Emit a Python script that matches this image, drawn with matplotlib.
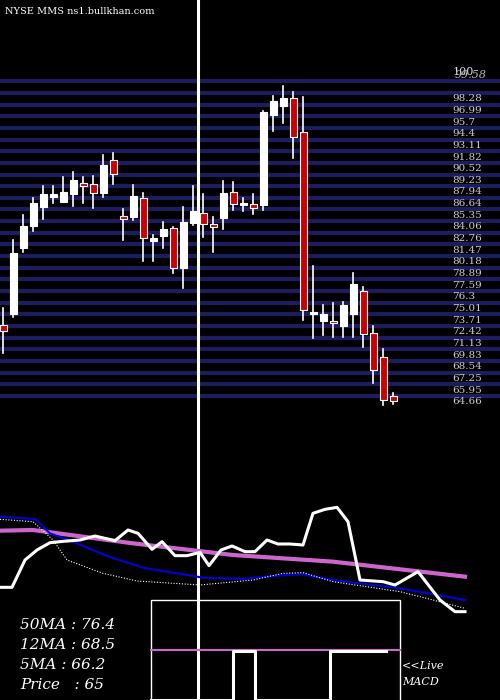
import matplotlib
matplotlib.use("Agg")
import matplotlib.pyplot as plt
from matplotlib.patches import Rectangle

# ---- data ----
opens  = [72.53,73.75,81.11,83.55,85.66,86.77,86.22,87.07,88.25,88.14,87.22,90.84,84.63,84.55,86.59,81.89,82.44,83.26,78.89,83.81,
          84.92,83.70,84.44,87.25,85.85,85.92,85.85,95.84,96.83,97.69,93.91,73.71,73.01,72.90,72.45,73.71,76.30,71.60,68.94,64.69]
closes = [71.90,80.56,83.52,86.03,87.07,87.07,87.29,88.62,87.99,87.14,90.29,89.25,84.26,86.88,82.15,82.22,83.18,78.82,83.92,85.18,
          83.70,83.44,87.14,85.92,86.11,85.48,96.21,97.39,97.76,93.43,74.19,73.72,73.75,72.71,74.75,77.08,71.49,67.53,64.20,64.09]
highs  = [74.38,81.96,84.74,86.66,87.96,87.96,88.99,89.51,88.99,89.07,91.40,91.62,85.40,88.07,87.22,82.52,83.92,83.44,85.66,87.96,
          87.07,84.55,88.51,88.36,86.66,87.07,96.28,97.98,99.05,98.35,97.87,79.08,74.75,74.93,75.04,78.26,76.78,72.42,69.83,64.94]
lows   = [69.38,73.45,80.67,83.00,84.29,86.11,86.22,85.77,86.11,85.55,86.77,88.18,81.96,84.18,79.67,79.67,81.11,78.26,76.67,83.63,
          82.33,80.67,83.18,85.29,85.18,84.81,85.29,94.06,94.98,91.10,73.08,71.12,71.42,71.23,71.16,71.23,70.12,66.13,63.65,63.76]
price_labels = ["98.28","96.99","95.7","94.4","93.11","91.82","90.52","89.23","87.94","86.64","85.35","84.06","82.76",
                "81.47","80.18","78.89","77.59","76.3","75.01","73.71","72.42","71.13","69.83","68.54","67.25","65.95","64.66"]

# indicator panel (x in bar units, y in indicator units)
w_x = [0,1.2,2.5,3.7,5,6.7,8,9.5,11.5,12.8,13.8,15.2,16.2,17.5,18.7,20,20.9,22.1,23.2,24.5,25.5,26.7,27.8,29,30.3,31.3,32.5,33.7,34.8,36,38.3,39.5,41.8,44,45.5,46.5]
w_y = [262,262,180,150,128,123,120,108,122,90,100,148,125,167,167,157,197,150,138,155,155,120,132,132,135,40,28,22,65,240,245,255,215,300,335,335]
b_x = [0,3.5,5,7.7,10.7,14.3,20.3,24.3,27.3,30,33.3,40,46.5]
b_y = [50,57,100,130,168,203,233,237,228,222,240,265,300]
d_x = [0,3.3,5.3,6.7,10.3,13.7,20,25.3,28.3,30.3,33.3,40,43.3,46.5]
d_y = [58,65,120,180,220,243,255,240,220,218,245,275,300,325]
m_x = [0,3.3,13.3,23.3,33.3,46.5]
m_y = [92,90,130,165,185,230]
macd_x = [15.1,23.3,23.3,25.5,25.5,33.0,33.0,38.6]
macd_y = [700,700,651,651,700,700,651,651]

BG = "black"
fig = plt.figure(figsize=(5, 7), dpi=100, facecolor=BG)

# price panel: covers pixel rows 0..420
ax = fig.add_axes([0, 280/700, 1, 420/700])
ax.set_facecolor(BG)
ax.set_xlim(-0.33, 49.67)
ax.set_ylim(61.98, 108.6)
ax.axis("off")
levels = [99.58] + [float(s) for s in price_labels]
for lv in levels:
    ax.axhline(lv, color="#1c1c5e", lw=3, zorder=1)
for i, (o, c, h, l) in enumerate(zip(opens, closes, highs, lows)):
    up = c >= o
    ax.plot([i, i], [l, h], color="white", lw=1.2, zorder=2)
    col = "white" if up else "#cc0000"
    ax.add_patch(Rectangle((i - 0.33, min(o, c)), 0.66, max(abs(c - o), 0.25),
                           facecolor=col, edgecolor="white", lw=0.8, zorder=3))
ax.text(44.9, 100.0, "100", color="#dddddd", fontsize=8, family="DejaVu Serif", va="bottom")
ax.text(45.1, 99.7, "99.58", color="#bbbbbb", fontsize=8, family="DejaVu Serif", va="bottom", style="italic")
for s in price_labels:
    ax.text(44.9, float(s) - 0.15, s, color="#cccccc", fontsize=7.5, family="DejaVu Serif", va="top")

# overlay in pixel space
ov = fig.add_axes([0, 0, 1, 1], facecolor="none")
ov.set_xlim(0, 500)
ov.set_ylim(700, 0)
ov.axis("off")
ov.plot([198, 198], [0, 700], color="white", lw=2.2, zorder=5)
ov.text(5, 12, "NYSE MMS ns1.bullkhan.com", color="white", fontsize=7, family="DejaVu Serif", va="center")
ov.add_patch(Rectangle((151, 600), 249, 110, facecolor="none", edgecolor="white", lw=1))
for k, t in enumerate(["50MA : 76.4", "12MA : 68.5", "5MA : 66.2", "Price   : 65"]):
    ov.text(20, 625 + 20 * k, t, color="white", fontsize=11, family="DejaVu Serif", style="italic", va="center")
ov.text(402, 666, "<<Live", color="white", fontsize=8, family="DejaVu Serif", style="italic", va="center")
ov.text(402, 682, "MACD", color="white", fontsize=8, family="DejaVu Serif", style="italic", va="center")

# indicator panel
ia = fig.add_axes([0, 0, 1, 1], facecolor="none")
ia.set_xlim(0, 50)
ia.set_ylim(600, -1500)
ia.axis("off")
ia.plot(m_x, m_y, color="#cc66cc", lw=3)
ia.plot(b_x, b_y, color="#0000dd", lw=1.5)
ia.plot(d_x, d_y, color="white", lw=0.8, ls=(0, (1, 1.5)))
ia.plot(w_x, w_y, color="white", lw=2.2)

ma = fig.add_axes([0, 0, 1, 1], facecolor="none")
ma.set_xlim(0, 50)
ma.set_ylim(700, 0)
ma.axis("off")
ma.plot([15.1, 40], [650, 650], color="#cc66cc", lw=1.5)
ma.plot(macd_x, macd_y, color="white", lw=2.2)

fig.savefig("out.png", facecolor=BG)
